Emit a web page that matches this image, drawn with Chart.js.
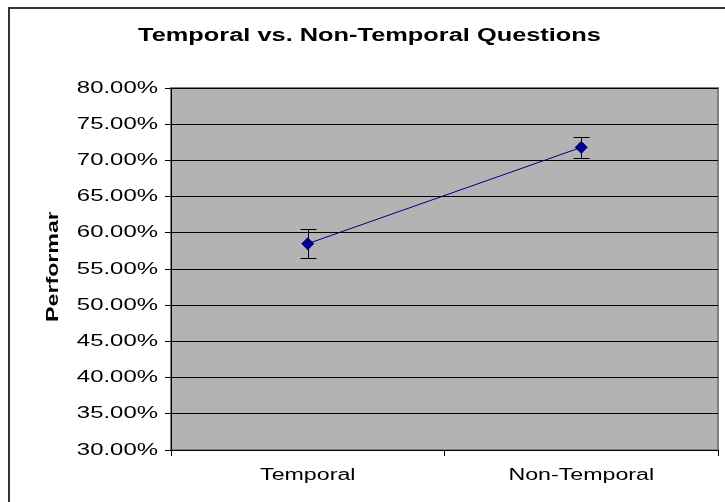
<!DOCTYPE html>
<html>
<head>
<meta charset="utf-8">
<script src="https://cdn.jsdelivr.net/npm/chart.js@4.4.1/dist/chart.umd.min.js"></script>
<style>
  body { margin: 0; background: #fff; }
  #wrap { width: 725px; height: 502px; position: relative; }
</style>
</head>
<body>
<div id="wrap"><canvas id="chart"></canvas></div>
<script>
const categories = ['Temporal', 'Non-Temporal'];
const performance = [58.5, 71.8];
const errorMargin = [2.0, 1.5];
const yMin = 30, yMax = 80, yStep = 5;
const chartTitle = 'Temporal vs. Non-Temporal Questions';
const yAxisTitle = 'Performance';

const font = "'Liberation Sans', Arial, sans-serif";
const stretch = 1.45;

// the old Excel export draws all text wide, so stretch glyphs along the text direction
const canvas = document.getElementById('chart');
const ctx = canvas.getContext('2d');
const rawFill = ctx.fillText.bind(ctx);
const rawMeasure = ctx.measureText.bind(ctx);
ctx.measureText = t => {
  const m = rawMeasure(t);
  return {
    width: m.width * stretch,
    actualBoundingBoxAscent: m.actualBoundingBoxAscent,
    actualBoundingBoxDescent: m.actualBoundingBoxDescent,
    actualBoundingBoxLeft: m.actualBoundingBoxLeft * stretch,
    actualBoundingBoxRight: m.actualBoundingBoxRight * stretch
  };
};
ctx.fillText = (t, x, y) => {
  ctx.save();
  ctx.translate(x, y);
  ctx.scale(stretch, 1);
  rawFill(t, 0, 0);
  ctx.restore();
};

const plotFrame = {
  id: 'plotFrame',
  beforeDraw(chart) {
    const { ctx, chartArea: a } = chart;
    ctx.save();
    // outer chart border, right and bottom edges are cut off
    ctx.strokeStyle = '#333';
    ctx.lineWidth = 2;
    ctx.strokeRect(9, 8, chart.width + 20, chart.height + 20);
    ctx.fillStyle = '#b3b3b3';
    ctx.fillRect(a.left, a.top, a.width, a.height);
    ctx.strokeStyle = '#808080';
    ctx.strokeRect(a.left, a.top, a.width, a.height);
    ctx.restore();
  }
};

const errorBars = {
  id: 'errorBars',
  beforeDatasetsDraw(chart) {
    const { ctx, scales: { x, y } } = chart;
    ctx.save();
    ctx.strokeStyle = '#000';
    ctx.lineWidth = 1;
    performance.forEach((v, i) => {
      const px = Math.round(x.getPixelForValue(i)) + 0.5;
      const top = Math.round(y.getPixelForValue(v + errorMargin[i])) + 0.5;
      const bot = Math.round(y.getPixelForValue(v - errorMargin[i])) + 0.5;
      ctx.beginPath();
      ctx.moveTo(px, top); ctx.lineTo(px, bot);
      ctx.moveTo(px - 8, top); ctx.lineTo(px + 8, top);
      ctx.moveTo(px - 8, bot); ctx.lineTo(px + 8, bot);
      ctx.stroke();
    });
    ctx.restore();
  }
};

// axis title is clipped in the original, only "Performar" shows
const yTitle = {
  id: 'yTitle',
  afterDraw(chart) {
    const ctx = chart.ctx;
    ctx.save();
    ctx.beginPath();
    ctx.rect(0, 212, 120, 300);
    ctx.clip();
    ctx.translate(58, 322);
    ctx.rotate(-Math.PI / 2);
    ctx.font = 'bold 16px ' + font;
    ctx.fillStyle = '#000';
    ctx.textAlign = 'left';
    ctx.textBaseline = 'alphabetic';
    ctx.fillText(yAxisTitle, 0, 0);
    ctx.restore();
  }
};

new Chart(canvas, {
  type: 'line',
  data: {
    labels: categories,
    datasets: [{
      data: performance,
      borderColor: '#000080',
      backgroundColor: '#000080',
      borderWidth: 1,
      pointStyle: 'rectRot',
      pointRadius: 6,
      pointHoverRadius: 6,
      pointBorderColor: '#000080',
      pointBackgroundColor: '#000080',
      tension: 0
    }]
  },
  options: {
    responsive: true,
    maintainAspectRatio: false,
    animation: false,
    layout: { padding: { left: 20, right: 6, top: 0, bottom: 0 } },
    plugins: {
      legend: { display: false },
      tooltip: { enabled: false },
      title: {
        display: true,
        text: chartTitle,
        color: '#000',
        font: { family: font, size: 17.5, weight: 'bold', lineHeight: 1.2 },
        padding: { top: 26, bottom: 41 }
      }
    },
    scales: {
      x: {
        offset: true,
        grid: { offset: true, drawOnChartArea: false, color: '#000', tickLength: 6 },
        border: { color: '#000' },
        ticks: { color: '#000', font: { family: font, size: 16 }, padding: 10 },
        afterFit(s) { s.height = 52; }
      },
      y: {
        min: yMin,
        max: yMax,
        grid: { color: '#000', tickLength: 6 },
        border: { color: '#000' },
        ticks: {
          stepSize: yStep,
          color: '#000',
          font: { family: font, size: 16.5 },
          padding: 7,
          callback: v => v.toFixed(2) + '%'
        },
        afterFit(s) { s.width = 151; }
      }
    }
  },
  plugins: [plotFrame, errorBars, yTitle]
});
</script>
</body>
</html>
